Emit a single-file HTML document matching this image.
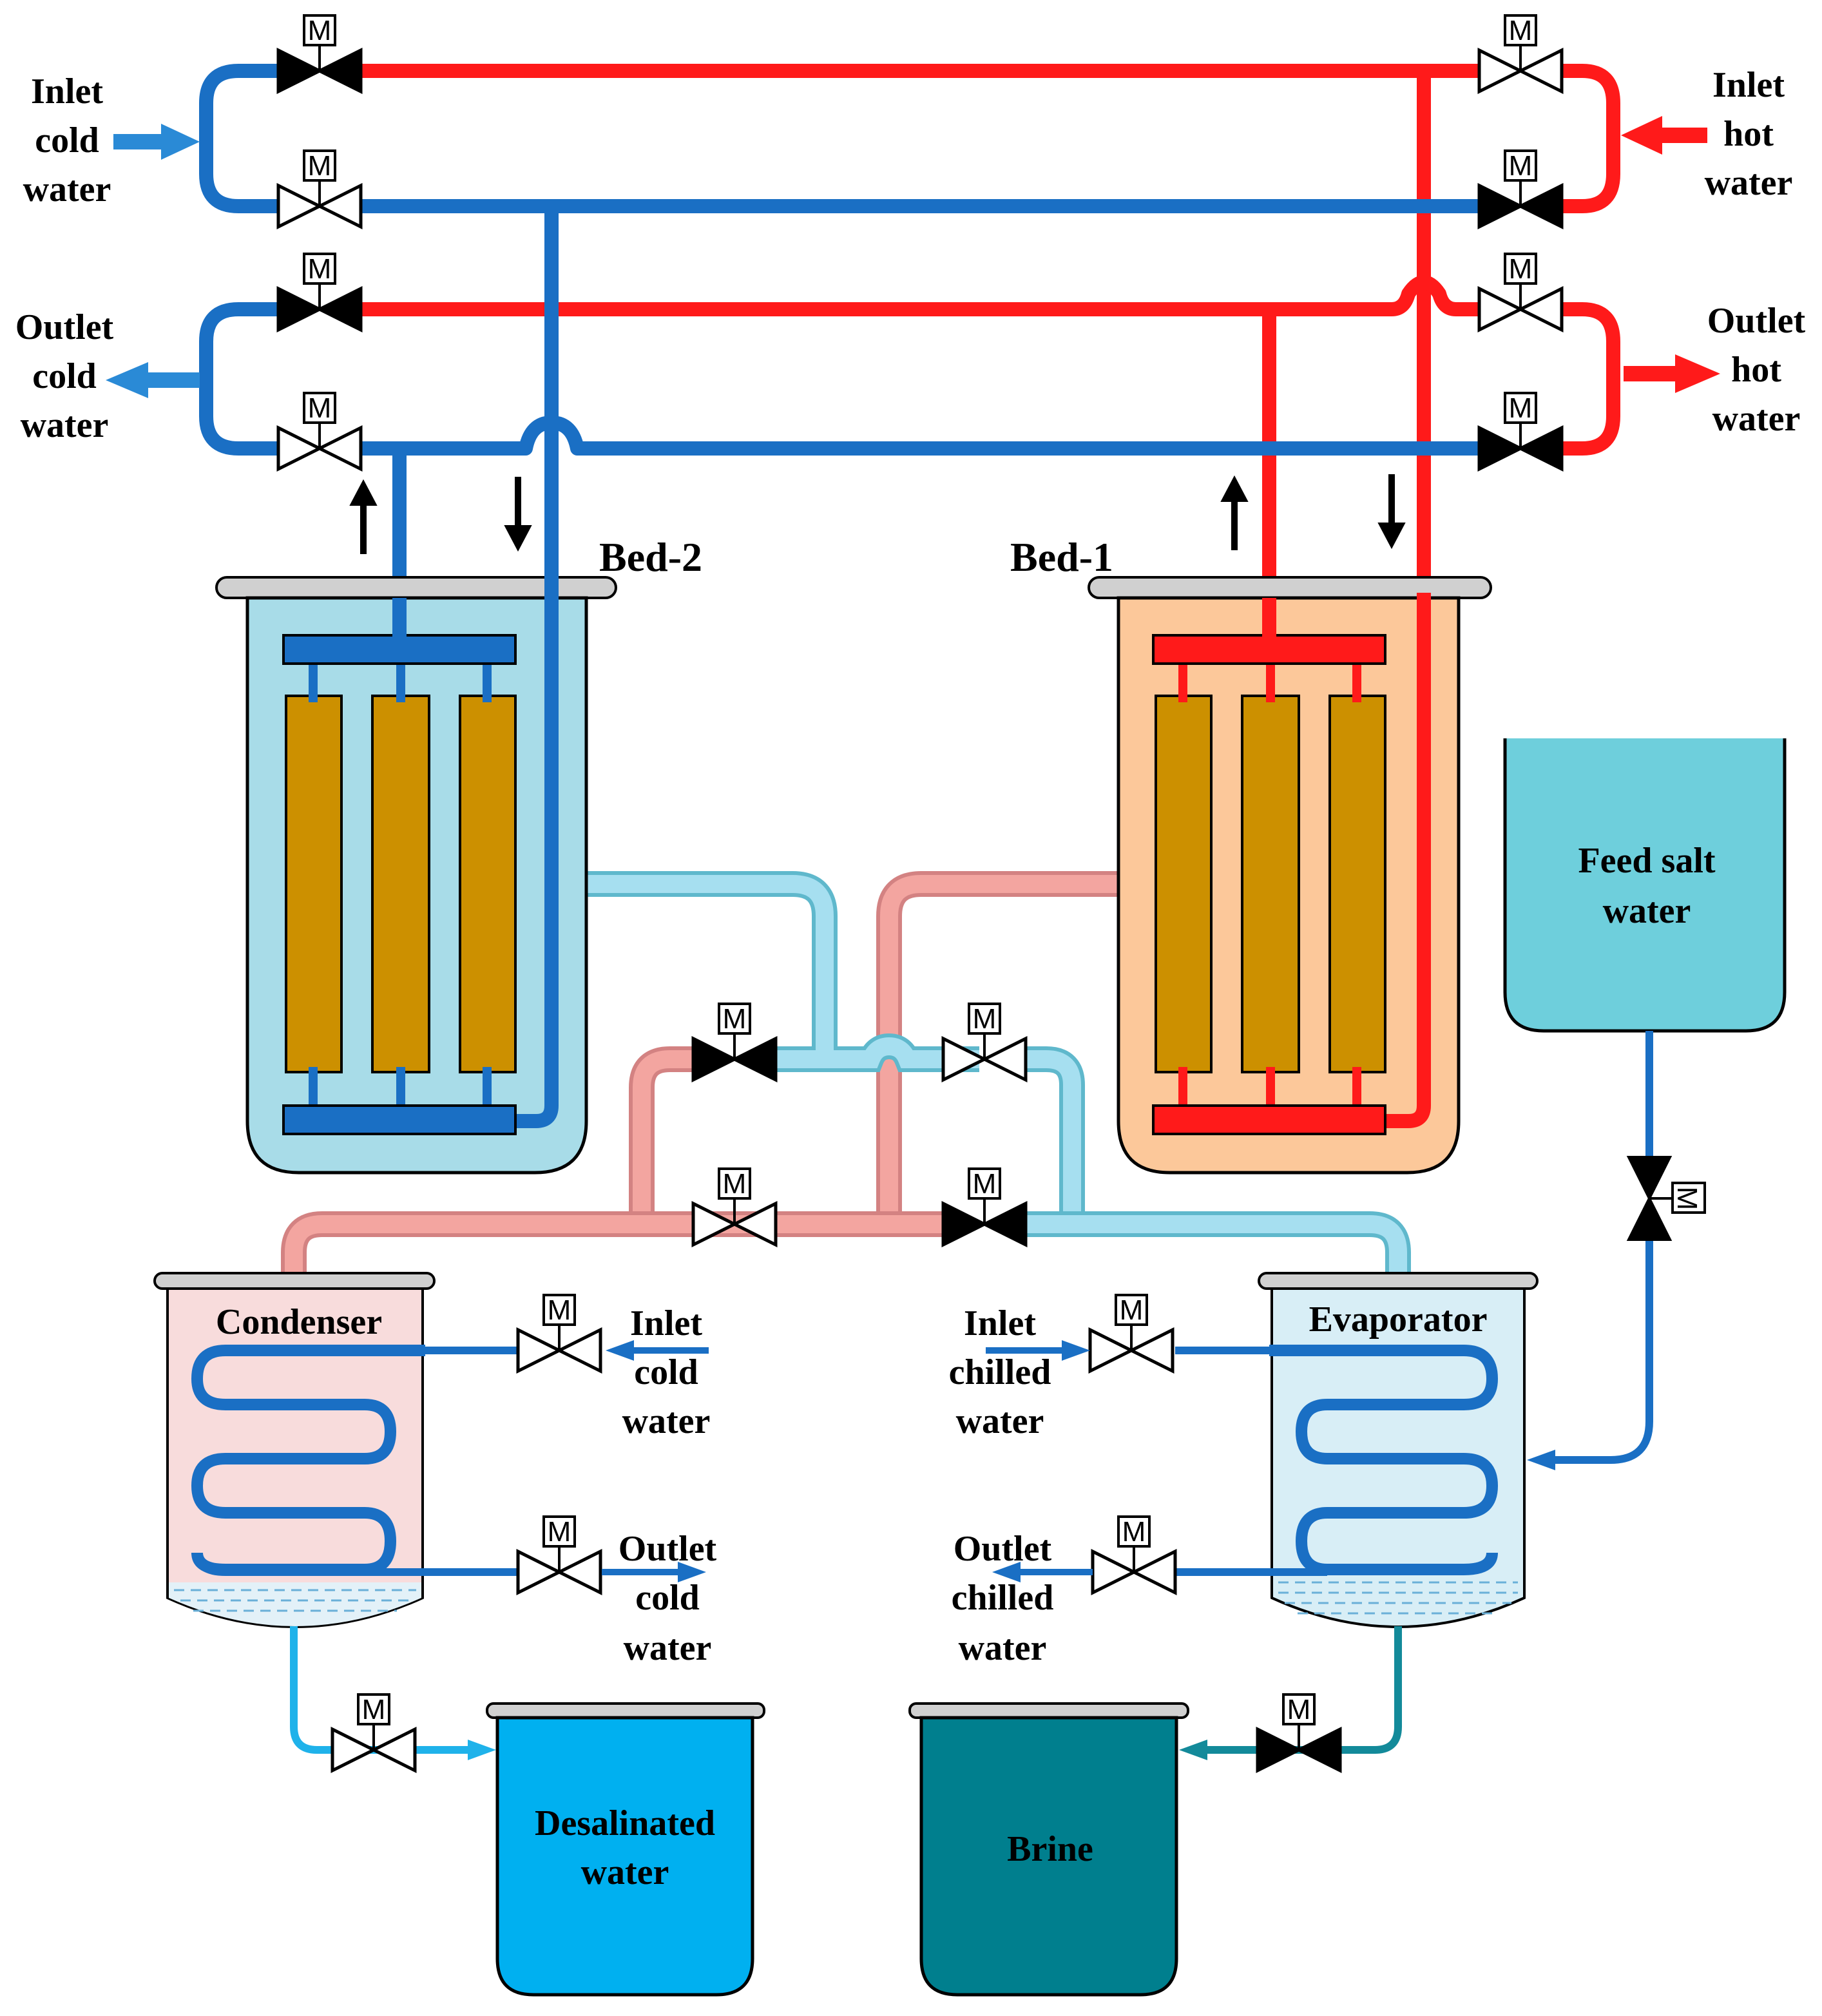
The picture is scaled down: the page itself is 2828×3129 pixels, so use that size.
<!DOCTYPE html>
<html><head><meta charset="utf-8"><style>
html,body{margin:0;padding:0;background:#fff}
svg{display:block}
text{font-family:"Liberation Serif",serif;font-weight:bold;fill:#000}
text.m{font-family:"Liberation Sans",sans-serif;font-weight:normal}
</style></head><body>
<svg width="2828" height="3129" viewBox="0 0 1414 1564.5" xmlns="http://www.w3.org/2000/svg">
<defs>
<g id="vw"><line x1="0" y1="0" x2="0" y2="-20" stroke="#000" stroke-width="2"/><rect x="-12" y="-43" width="24" height="23" fill="#fff" stroke="#000" stroke-width="2"/><text class="m" x="0" y="-24" font-size="22" text-anchor="middle">M</text><polygon points="-32,-16 0,0 -32,16" fill="#fff" stroke="#000" stroke-width="2.5"/><polygon points="32,-16 0,0 32,16" fill="#fff" stroke="#000" stroke-width="2.5"/></g>
<g id="vb"><line x1="0" y1="0" x2="0" y2="-20" stroke="#000" stroke-width="2"/><rect x="-12" y="-43" width="24" height="23" fill="#fff" stroke="#000" stroke-width="2"/><text class="m" x="0" y="-24" font-size="22" text-anchor="middle">M</text><polygon points="-32,-16 0,0 -32,16" fill="#000" stroke="#000" stroke-width="2.5"/><polygon points="32,-16 0,0 32,16" fill="#000" stroke="#000" stroke-width="2.5"/></g>
</defs>

<g fill="none" stroke-linejoin="round">
<path d="M215,55 H185 Q160,55 160,80 V135 Q160,160 185,160 H215" stroke="#1a6fc4" stroke-width="11"/>
<path d="M215,240 H185 Q160,240 160,265 V323 Q160,348 185,348 H215" stroke="#1a6fc4" stroke-width="11"/>
<path d="M1213,55 H1228 Q1252,55 1252,80 V135 Q1252,160 1228,160 H1213" stroke="#ff1a1a" stroke-width="11"/>
<path d="M1213,240 H1228 Q1252,240 1252,265 V323 Q1252,348 1228,348 H1213" stroke="#ff1a1a" stroke-width="11"/>
<path d="M428,160 V858 Q428,870 416,870 H400" stroke="#1a6fc4" stroke-width="11"/>
<path d="M310,348 V495" stroke="#1a6fc4" stroke-width="11"/>
<path d="M1105,55 V858 Q1105,870 1093,870 H1075" stroke="#ff1a1a" stroke-width="11"/>
<path d="M985,240 V495" stroke="#ff1a1a" stroke-width="11"/>
<path d="M280,55 H1148" stroke="#ff1a1a" stroke-width="11"/>
<path d="M280,160 H1148" stroke="#1a6fc4" stroke-width="11"/>
<path d="M280,240 H1080 Q1090,240 1093,228 Q1105,210 1117,228 Q1120,240 1130,240 H1148" stroke="#ff1a1a" stroke-width="11"/>
<path d="M280,348 H408 Q412,328 428,328 Q444,328 448,348 H1148" stroke="#1a6fc4" stroke-width="11"/>
</g>
<path d="M88,104 H125 V96 L155,110 L125,124 V116 H88 Z" fill="#2a8ad6"/>
<path d="M155,289 H115 V281 L82,295 L115,309 V301 H155 Z" fill="#2a8ad6"/>
<path d="M1325,99 H1290 V90 L1258,105 L1290,120 V111 H1325 Z" fill="#ff1a1a"/>
<path d="M1260,284 H1300 V275 L1335,290 L1300,305 V296 H1260 Z" fill="#ff1a1a"/>
<use href="#vb" x="248" y="55"/><use href="#vw" x="1180" y="55"/>
<use href="#vw" x="248" y="160"/><use href="#vb" x="1180" y="160"/>
<use href="#vb" x="248" y="240"/><use href="#vw" x="1180" y="240"/>
<use href="#vw" x="248" y="348"/><use href="#vb" x="1180" y="348"/>
<text font-size="28" text-anchor="middle"><tspan x="52" y="80">Inlet</tspan><tspan x="52" y="118">cold</tspan><tspan x="52" y="156">water</tspan></text>
<text font-size="28" text-anchor="middle"><tspan x="50" y="263">Outlet</tspan><tspan x="50" y="301">cold</tspan><tspan x="50" y="339">water</tspan></text>
<text font-size="28" text-anchor="middle"><tspan x="1357" y="75">Inlet</tspan><tspan x="1357" y="113">hot</tspan><tspan x="1357" y="151">water</tspan></text>
<text font-size="28" text-anchor="middle"><tspan x="1363" y="258">Outlet</tspan><tspan x="1363" y="296">hot</tspan><tspan x="1363" y="334">water</tspan></text>
<g fill="#000" stroke="#000" stroke-width="5">
<line x1="282" y1="430" x2="282" y2="390"/><polygon points="272,392 282,373 292,392" stroke-width="1"/>
<line x1="402" y1="370" x2="402" y2="410"/><polygon points="392,408 402,427 412,408" stroke-width="1"/>
<line x1="958" y1="427" x2="958" y2="387"/><polygon points="948,389 958,370 968,389" stroke-width="1"/>
<line x1="1080" y1="368" x2="1080" y2="408"/><polygon points="1070,406 1080,425 1090,406" stroke-width="1"/>
</g>
<text x="505" y="443" font-size="32" text-anchor="middle">Bed-2</text>
<text x="824" y="443" font-size="32" text-anchor="middle">Bed-1</text>

<g fill="none">
<path d="M868,686 H715 Q690,686 690,711 V950" stroke="#d38282" stroke-width="20"/>
<path d="M868,686 H715 Q690,686 690,711 V950" stroke="#f3a5a0" stroke-width="14"/>
<path d="M455,686 H615 Q640,686 640,711 V822" stroke="#5fb8cc" stroke-width="20"/>
<path d="M602,822 H676 Q680,812 690,812 Q700,812 704,822 H760" stroke="#5fb8cc" stroke-width="20"/>
<path d="M455,686 H615 Q640,686 640,711 V822" stroke="#a6dff0" stroke-width="14"/>
<path d="M602,822 H676 Q680,812 690,812 Q700,812 704,822 H760" stroke="#a6dff0" stroke-width="14"/>
<path d="M797,822 H812 Q832,822 832,842 V950" stroke="#5fb8cc" stroke-width="20"/>
<path d="M797,822 H812 Q832,822 832,842 V950" stroke="#a6dff0" stroke-width="14"/>
<path d="M537,822 H520 Q498,822 498,844 V950" stroke="#d38282" stroke-width="20"/>
<path d="M537,822 H520 Q498,822 498,844 V950" stroke="#f3a5a0" stroke-width="14"/>
<path d="M228,998 V972 Q228,950 250,950 H732" stroke="#d38282" stroke-width="20"/>
<path d="M228,998 V972 Q228,950 250,950 H732" stroke="#f3a5a0" stroke-width="14"/>
<path d="M797,950 H1063 Q1085,950 1085,972 V998" stroke="#5fb8cc" stroke-width="20"/>
<path d="M797,950 H1063 Q1085,950 1085,972 V998" stroke="#a6dff0" stroke-width="14"/>
</g>
<use href="#vb" x="570" y="822"/><use href="#vw" x="764" y="822"/>
<use href="#vw" x="570" y="950"/><use href="#vb" x="764" y="950"/>

<rect x="168" y="448" width="310" height="16" rx="8" fill="#d0d0d0" stroke="#000" stroke-width="2"/>
<path d="M192,464 H455 V870 Q455,910 415,910 H232 Q192,910 192,870 Z" fill="#a8dce8" stroke="#000" stroke-width="2.5"/>
<g fill="#cc9000" stroke="#000" stroke-width="2"><rect x="222" y="540" width="43" height="292"/><rect x="289" y="540" width="44" height="292"/><rect x="357" y="540" width="43" height="292"/></g>
<g stroke="#1a6fc4" stroke-width="7"><line x1="243" y1="515" x2="243" y2="545"/><line x1="311" y1="515" x2="311" y2="545"/><line x1="378" y1="515" x2="378" y2="545"/><line x1="243" y1="828" x2="243" y2="860"/><line x1="311" y1="828" x2="311" y2="860"/><line x1="378" y1="828" x2="378" y2="860"/></g>
<path d="M428,160 V858 Q428,870 416,870 H400" fill="none" stroke="#1a6fc4" stroke-width="11"/>
<rect x="220" y="493" width="180" height="22" fill="#1a6fc4" stroke="#000" stroke-width="2"/>
<rect x="220" y="858" width="180" height="22" fill="#1a6fc4" stroke="#000" stroke-width="2"/>
<line x1="310" y1="464" x2="310" y2="495" stroke="#1a6fc4" stroke-width="11"/>
<rect x="845" y="448" width="312" height="16" rx="8" fill="#d0d0d0" stroke="#000" stroke-width="2"/>
<path d="M868,464 H1132 V870 Q1132,910 1092,910 H908 Q868,910 868,870 Z" fill="#fcc89a" stroke="#000" stroke-width="2.5"/>
<g fill="#cc9000" stroke="#000" stroke-width="2"><rect x="897" y="540" width="43" height="292"/><rect x="964" y="540" width="44" height="292"/><rect x="1032" y="540" width="43" height="292"/></g>
<g stroke="#ff1a1a" stroke-width="7"><line x1="918" y1="515" x2="918" y2="545"/><line x1="986" y1="515" x2="986" y2="545"/><line x1="1053" y1="515" x2="1053" y2="545"/><line x1="918" y1="828" x2="918" y2="860"/><line x1="986" y1="828" x2="986" y2="860"/><line x1="1053" y1="828" x2="1053" y2="860"/></g>
<path d="M1105,460 V858 Q1105,870 1093,870 H1075" fill="none" stroke="#ff1a1a" stroke-width="11"/>
<rect x="895" y="493" width="180" height="22" fill="#ff1a1a" stroke="#000" stroke-width="2"/>
<rect x="895" y="858" width="180" height="22" fill="#ff1a1a" stroke="#000" stroke-width="2"/>
<line x1="985" y1="464" x2="985" y2="495" stroke="#ff1a1a" stroke-width="11"/>

<rect x="120" y="988" width="217" height="12" rx="6" fill="#d0d0d0" stroke="#000" stroke-width="2"/>
<path d="M130,1000 H328 V1240 Q229,1285 130,1240 Z" fill="#f8dcdc" stroke="#000" stroke-width="2"/>
<path d="M131,1228 H327 V1240 Q229,1284 131,1240 Z" fill="#e3f1f8"/>
<g stroke="#6ab0d8" stroke-width="1.5" stroke-dasharray="8,5"><line x1="135" y1="1234" x2="323" y2="1234"/><line x1="140" y1="1242" x2="318" y2="1242"/><line x1="150" y1="1250" x2="308" y2="1250"/></g>
<path d="M330,1048 H175 Q153,1048 153,1070 Q153,1090 175,1090 H283 Q303,1090 303,1111 Q303,1132 283,1132 H175 Q153,1132 153,1153 Q153,1174 175,1174 H283 Q303,1174 303,1196 Q303,1218 283,1218 H175 Q153,1218 153,1205" fill="none" stroke="#1a6fc4" stroke-width="9"/>
<path d="M280,1048 H403 M153,1205 Q153,1220 175,1220 H403" fill="none" stroke="#1a6fc4" stroke-width="6"/>
<text x="232" y="1035" font-size="28" text-anchor="middle">Condenser</text>
<use href="#vw" x="434" y="1048"/><use href="#vw" x="434" y="1220"/>
<path d="M550,1048 H490" stroke="#1a6fc4" stroke-width="5"/><polygon points="492,1040 470,1048 492,1056" fill="#1a6fc4"/>
<path d="M467,1220 H528" stroke="#1a6fc4" stroke-width="5"/><polygon points="526,1212 548,1220 526,1228" fill="#1a6fc4"/>
<text font-size="28" text-anchor="middle"><tspan x="517" y="1036">Inlet</tspan><tspan x="517" y="1074">cold</tspan><tspan x="517" y="1112">water</tspan></text>
<text font-size="28" text-anchor="middle"><tspan x="518" y="1211">Outlet</tspan><tspan x="518" y="1249">cold</tspan><tspan x="518" y="1288">water</tspan></text>

<rect x="977" y="988" width="216" height="12" rx="6" fill="#d0d0d0" stroke="#000" stroke-width="2"/>
<path d="M987,1000 H1183 V1240 Q1085,1285 987,1240 Z" fill="#d8eef6" stroke="#000" stroke-width="2"/>
<g stroke="#6ab0d8" stroke-width="1.5" stroke-dasharray="8,5"><line x1="992" y1="1228" x2="1178" y2="1228"/><line x1="992" y1="1236" x2="1178" y2="1236"/><line x1="997" y1="1244" x2="1173" y2="1244"/><line x1="1007" y1="1252" x2="1163" y2="1252"/></g>
<path d="M985,1048 H1136 Q1158,1048 1158,1070 Q1158,1090 1136,1090 H1030 Q1010,1090 1010,1111 Q1010,1132 1030,1132 H1136 Q1158,1132 1158,1153 Q1158,1174 1136,1174 H1030 Q1010,1174 1010,1196 Q1010,1218 1030,1218 H1136 Q1158,1218 1158,1205" fill="none" stroke="#1a6fc4" stroke-width="9"/>
<path d="M912,1048 H1020 M912,1220 H1030" fill="none" stroke="#1a6fc4" stroke-width="6"/>
<text x="1085" y="1033" font-size="28" text-anchor="middle">Evaporator</text>
<use href="#vw" x="878" y="1048"/><use href="#vw" x="880" y="1220"/>
<path d="M765,1048 H826" stroke="#1a6fc4" stroke-width="5"/><polygon points="824,1040 846,1048 824,1056" fill="#1a6fc4"/>
<path d="M848,1220 H790" stroke="#1a6fc4" stroke-width="5"/><polygon points="792,1212 770,1220 792,1228" fill="#1a6fc4"/>
<text font-size="28" text-anchor="middle"><tspan x="776" y="1036">Inlet</tspan><tspan x="776" y="1074">chilled</tspan><tspan x="776" y="1112">water</tspan></text>
<text font-size="28" text-anchor="middle"><tspan x="778" y="1211">Outlet</tspan><tspan x="778" y="1249">chilled</tspan><tspan x="778" y="1288">water</tspan></text>

<path d="M1168,573 V770 Q1168,800 1198,800 H1355 Q1385,800 1385,770 V573" fill="#6ecfdc" stroke="#000" stroke-width="2.5"/>
<text font-size="28" text-anchor="middle"><tspan x="1278" y="677">Feed salt</tspan><tspan x="1278" y="716">water</tspan></text>
<path d="M1280,800 V898 M1280,962 V1103 Q1280,1133 1250,1133 H1205" fill="none" stroke="#1a6fc4" stroke-width="6"/>
<polygon points="1207,1125 1185,1133 1207,1141" fill="#1a6fc4"/>
<g><polygon points="1264,898 1296,898 1280,930" fill="#000" stroke="#000" stroke-width="2"/><polygon points="1264,962 1296,962 1280,930" fill="#000" stroke="#000" stroke-width="2"/><line x1="1280" y1="930" x2="1298" y2="930" stroke="#000" stroke-width="2"/><rect x="1298" y="918" width="25" height="23" fill="#fff" stroke="#000" stroke-width="2"/><text class="m" x="1310" y="938" font-size="22" text-anchor="middle" transform="rotate(90 1310 930)">M</text></g>

<path d="M228,1262 V1340 Q228,1358 246,1358 H365" fill="none" stroke="#1fb2ea" stroke-width="6"/>
<polygon points="363,1350 385,1358 363,1366" fill="#1fb2ea"/>
<use href="#vw" x="290" y="1358"/>
<rect x="378" y="1322" width="215" height="11" rx="5" fill="#d0d0d0" stroke="#000" stroke-width="2"/>
<path d="M386,1333 H584 V1520 Q584,1548 556,1548 H414 Q386,1548 386,1520 Z" fill="#00b0f0" stroke="#000" stroke-width="2.5"/>
<text font-size="28" text-anchor="middle"><tspan x="485" y="1424">Desalinated</tspan><tspan x="485" y="1462">water</tspan></text>

<path d="M1085,1262 V1340 Q1085,1358 1067,1358 H935" fill="none" stroke="#138a9a" stroke-width="6"/>
<polygon points="937,1350 915,1358 937,1366" fill="#138a9a"/>
<use href="#vb" x="1008" y="1358"/>
<rect x="706" y="1322" width="216" height="11" rx="5" fill="#d0d0d0" stroke="#000" stroke-width="2"/>
<path d="M715,1333 H913 V1520 Q913,1548 885,1548 H743 Q715,1548 715,1520 Z" fill="#007f8e" stroke="#000" stroke-width="2.5"/>
<text x="815" y="1444" font-size="28" text-anchor="middle">Brine</text>
</svg>
</body></html>
